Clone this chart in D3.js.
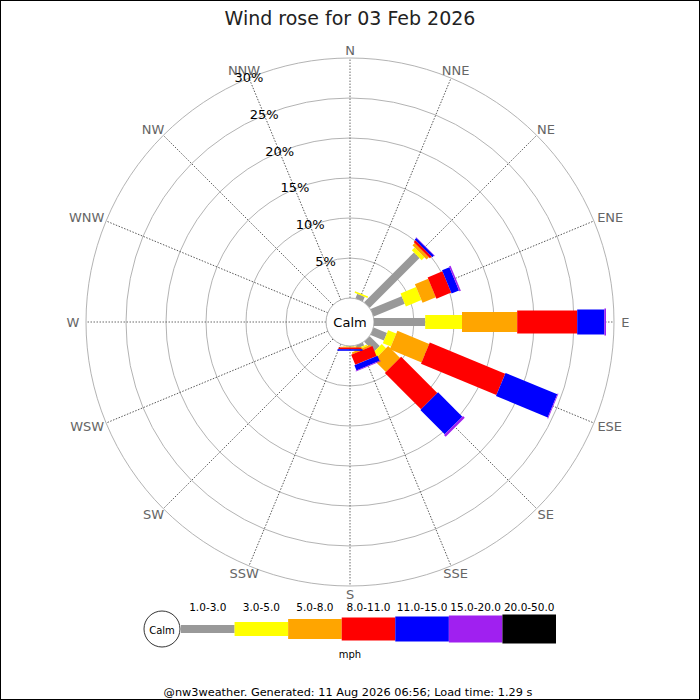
<!DOCTYPE html>
<html>
<head>
<meta charset="utf-8">
<script src="https://cdn.jsdelivr.net/npm/d3@7"></script>
<style>
  body { margin: 0; background: #fff; }
  text { font-family: "DejaVu Sans", sans-serif; }
</style>
</head>
<body>
<div id="rose"></div>
<script>

var directions = ['N', 'NNE', 'NE', 'ENE', 'E', 'ESE', 'SE', 'SSE',
                  'S', 'SSW', 'SW', 'WSW', 'W', 'WNW', 'NW', 'NNW'];
var speedBins = ['1.0-3.0', '3.0-5.0', '5.0-8.0', '8.0-11.0', '11.0-15.0', '15.0-20.0', '20.0-50.0'];

// percent of time per direction, one array per speed bin
var bin1to3   = [0, 0.6, 8.8, 4.2, 6.4, 1.8, 1.75, 0.4, 0.05, 0, 0, 0, 0, 0, 0, 0];
var bin3to5   = [0, 0.2, 0.5, 2.1, 4.6, 1.1, 0.75, 0.2, 0.05, 0, 0, 0, 0, 0, 0, 0];
var bin5to8   = [0, 0,   0.4, 1.8, 6.9, 4.3, 2.1, 0.25, 0.1,  0, 0, 0, 0, 0, 0, 0];
var bin8to11  = [0, 0,   0.3, 2.0, 7.5, 10.2, 6.4, 1.35, 0.2, 0, 0, 0, 0, 0, 0, 0];
var bin11to15 = [0, 0,   0.3, 1.0, 3.4, 7.0, 4.3, 0.7, 0.2,   0, 0, 0, 0, 0, 0, 0];
var bin15to20 = [0, 0,   0.05, 0.2, 0.2, 0.1, 0.3, 0.1, 0,    0, 0, 0, 0, 0, 0, 0];
var bin20to50 = [0, 0,   0, 0, 0, 0, 0, 0, 0, 0, 0, 0, 0, 0, 0, 0];

var ringTicks = [5, 10, 15, 20, 25, 30];

var title = 'Wind rose for 03 Feb 2026';
var footer = '@nw3weather. Generated: 11 Aug 2026 06:56; Load time: 1.29 s';

var binSeries = [bin1to3, bin3to5, bin5to8, bin8to11, bin11to15, bin15to20, bin20to50];
var binColours = ['#999999', '#ffff00', '#ffa500', '#ff0000', '#0000ff', '#a020f0', '#000000'];
var binThickness = [8, 14, 20, 23, 25, 27, 29];

var dim = { width: 700, height: 700, cx: 350, cy: 322, calm: 24, outer: 264 };

var svg = d3.select('#rose').append('svg')
    .attr('width', dim.width)
    .attr('height', dim.height);

svg.append('rect')
    .attr('x', 0.5).attr('y', 0.5)
    .attr('width', dim.width - 1).attr('height', dim.height - 1)
    .attr('fill', '#fff').attr('stroke', '#000');

svg.append('text')
    .attr('x', dim.width / 2).attr('y', 18)
    .attr('text-anchor', 'middle').attr('dominant-baseline', 'central')
    .attr('font-size', 19).attr('fill', '#222')
    .text(title);

var r = d3.scaleLinear().domain([0, 30]).range([dim.calm, dim.outer]);
function ang(d) { return directions.indexOf(d) * 22.5; }

var rose = svg.append('g')
    .attr('transform', 'translate(' + dim.cx + ',' + dim.cy + ')');

// rings
rose.selectAll('circle.ring')
    .data(ringTicks).enter()
    .append('circle')
    .attr('class', 'ring')
    .attr('r', d => r(d))
    .attr('fill', 'none')
    .attr('stroke', '#aaa')
    .attr('stroke-width', 0.9);

// spokes
rose.selectAll('line.spoke')
    .data(directions).enter()
    .append('line')
    .attr('class', 'spoke')
    .attr('transform', d => 'rotate(' + (ang(d) - 90) + ')')
    .attr('x1', r(0)).attr('x2', r(30))
    .attr('y1', 0).attr('y2', 0)
    .attr('stroke', '#444')
    .attr('stroke-width', 0.8)
    .attr('stroke-dasharray', '1.5,1.5');

// direction labels
rose.selectAll('text.dir')
    .data(directions).enter()
    .append('text')
    .attr('class', 'dir')
    .attr('font-size', 13)
    .attr('fill', '#666')
    .attr('text-anchor', 'middle')
    .attr('dominant-baseline', 'central')
    .text(d => d)
    .attr('x', function (d) {
        var a = ang(d) * Math.PI / 180;
        var hw = this.getComputedTextLength() / 2;
        return (272 + 0.8 * hw * Math.abs(Math.sin(a))) * Math.sin(a);
    })
    .attr('y', d => -272 * Math.cos(ang(d) * Math.PI / 180));

// stacked bars
var stackRows = directions.map(function (d, i) {
    var row = { dir: d };
    speedBins.forEach(function (b, j) { row[b] = binSeries[j][i]; });
    return row;
});
var stacked = d3.stack().keys(speedBins)(stackRows);

stacked.forEach(function (layer, j) {
    rose.append('g')
        .selectAll('rect')
        .data(layer.filter(s => s[1] - s[0] > 0)).enter()
        .append('rect')
        .attr('transform', s => 'rotate(' + (ang(s.data.dir) - 90) + ')')
        .attr('x', s => r(s[0]))
        .attr('width', s => r(s[1]) - r(s[0]))
        .attr('y', -binThickness[j] / 2)
        .attr('height', binThickness[j])
        .attr('fill', binColours[j]);
});

// percent labels along NNW
rose.selectAll('text.pct')
    .data(ringTicks).enter()
    .append('text')
    .attr('class', 'pct')
    .attr('x', d => -r(d) * Math.sin(22.5 * Math.PI / 180))
    .attr('y', d => -r(d) * Math.cos(22.5 * Math.PI / 180) - 1)
    .attr('text-anchor', 'middle')
    .attr('dominant-baseline', 'central')
    .attr('font-size', 13)
    .attr('fill', '#000')
    .text(d => d + '%');

// calm
rose.append('circle')
    .attr('r', dim.calm)
    .attr('fill', '#fff')
    .attr('stroke', '#999')
    .attr('stroke-width', 0.8);
rose.append('text')
    .attr('text-anchor', 'middle').attr('dominant-baseline', 'central')
    .attr('font-size', 13).attr('fill', '#000')
    .text('Calm');

// legend
var legendY = 629;
var legendX = d3.scaleBand().domain(speedBins).range([181, 556]);
var legend = svg.append('g');

legend.selectAll('rect')
    .data(speedBins).enter()
    .append('rect')
    .attr('x', d => legendX(d))
    .attr('width', legendX.bandwidth())
    .attr('y', (d, i) => legendY - binThickness[i] / 2)
    .attr('height', (d, i) => binThickness[i])
    .attr('fill', (d, i) => binColours[i]);

legend.selectAll('text.bin')
    .data(speedBins).enter()
    .append('text')
    .attr('class', 'bin')
    .attr('x', d => legendX(d) + legendX.bandwidth() / 2)
    .attr('y', 607)
    .attr('text-anchor', 'middle').attr('dominant-baseline', 'central')
    .attr('font-size', 10.5).attr('fill', '#000')
    .text(d => d);

legend.append('circle')
    .attr('cx', 162).attr('cy', legendY).attr('r', 18)
    .attr('fill', '#fff').attr('stroke', '#000').attr('stroke-width', 0.8);
legend.append('text')
    .attr('x', 162).attr('y', legendY + 1)
    .attr('text-anchor', 'middle').attr('dominant-baseline', 'central')
    .attr('font-size', 10).attr('fill', '#000')
    .text('Calm');
legend.append('text')
    .attr('x', 350).attr('y', 654)
    .attr('text-anchor', 'middle').attr('dominant-baseline', 'central')
    .attr('font-size', 10).attr('fill', '#000')
    .text('mph');

svg.append('text')
    .attr('x', 348).attr('y', 692)
    .attr('text-anchor', 'middle').attr('dominant-baseline', 'central')
    .attr('font-size', 11.3).attr('fill', '#000')
    .text(footer);

</script>
</body>
</html>
